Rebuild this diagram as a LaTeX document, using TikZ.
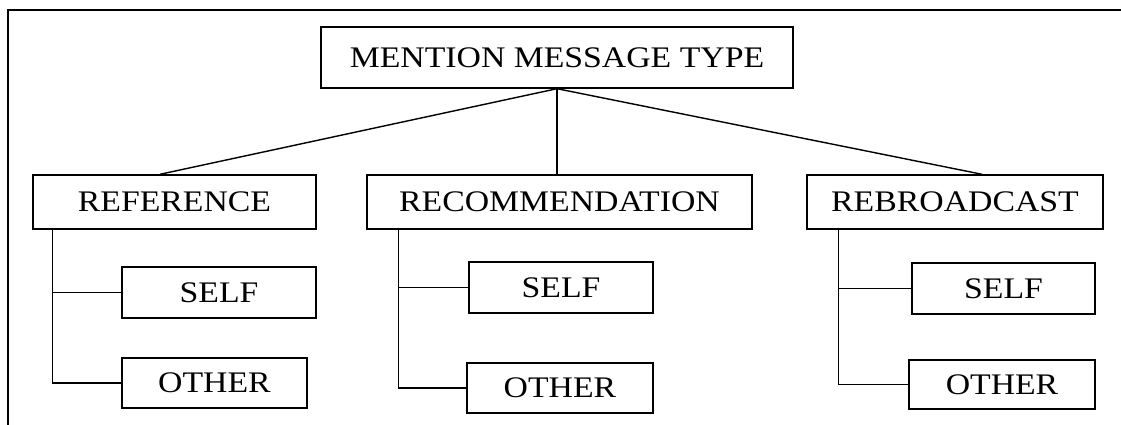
\documentclass[tikz,border=0pt]{standalone}
\usepackage{fontspec}
\setmainfont{Liberation Serif}[FakeStretch=1.13]
\tikzset{
    typebox/.style={draw, line width=0.8pt, inner sep=0pt, text height=11.2pt, text depth=0pt,
        font=\fontsize{17}{20}\selectfont},
    link/.style={line width=0.8pt}
}
\begin{document}
\begin{tikzpicture}[scale = 1]
        \useasboundingbox (0,0) rectangle (22.42,8.5);
        % frame
        \draw [link] (0.16,0) -- (0.16,8.3) -- (22.42,8.3);
        % boxes
        \node[typebox, minimum width=9.44cm, minimum height=1.22cm] (root) at (11.14,7.35) {MENTION MESSAGE TYPE};
        \node[typebox, minimum width=5.66cm, minimum height=1.08cm] (ref) at (3.49,4.46) {REFERENCE};
        \node[typebox, minimum width=7.70cm, minimum height=1.08cm] (rec) at (11.19,4.46) {RECOMMENDATION};
        \node[typebox, minimum width=5.92cm, minimum height=1.08cm] (reb) at (19.10,4.46) {REBROADCAST};
        \node[typebox, minimum width=3.88cm, minimum height=1.02cm] (refself) at (4.38,2.65) {SELF};
        \node[typebox, minimum width=3.70cm, minimum height=1.00cm] (refother) at (4.29,0.84) {OTHER};
        \node[typebox, minimum width=3.68cm, minimum height=1.02cm] (recself) at (11.22,2.75) {SELF};
        \node[typebox, minimum width=3.72cm, minimum height=1.00cm] (recother) at (11.20,0.74) {OTHER};
        \node[typebox, minimum width=3.66cm, minimum height=1.02cm] (rebself) at (20.07,2.73) {SELF};
        \node[typebox, minimum width=3.72cm, minimum height=0.98cm] (rebother) at (20.04,0.81) {OTHER};
        % fan out from the root
        \draw [link] (root.south) -- ([xshift=-0.29cm]ref.north);
        \draw [link] (root.south) -- (root.south |- rec.north);
        \draw [link] (root.south) -- ([xshift=0.54cm]reb.north);
        % sub branches
        \draw [link] ([xshift=0.40cm]ref.south west) |- (refother.west);
        \draw [link] ([xshift=0.40cm]ref.south west |- refself.west) -- (refself.west);
        \draw [link] ([xshift=0.64cm]rec.south west) |- (recother.west);
        \draw [link] ([xshift=0.64cm]rec.south west |- recself.west) -- (recself.west);
        \draw [link] ([xshift=0.64cm]reb.south west) |- (rebother.west);
        \draw [link] ([xshift=0.64cm]reb.south west |- rebself.west) -- (rebself.west);
    \end{tikzpicture}
\end{document}
